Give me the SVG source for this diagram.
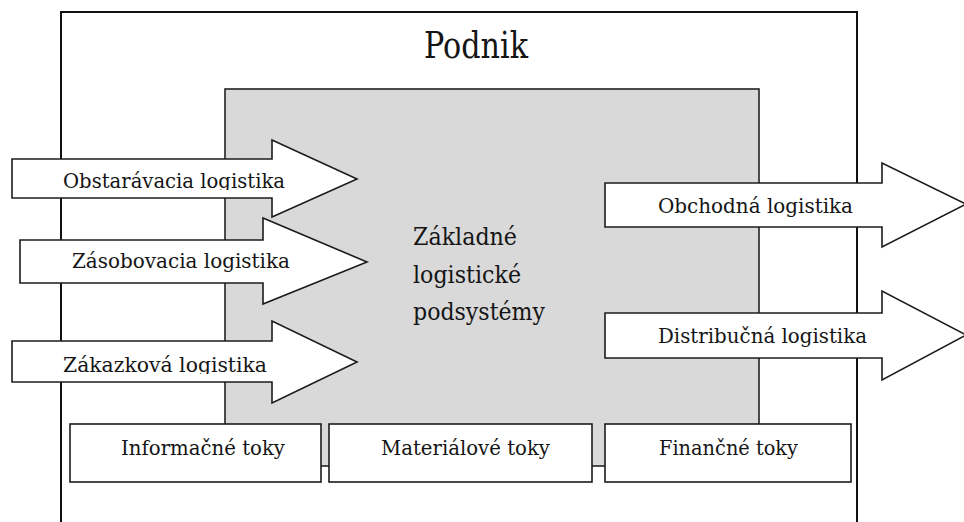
<svg xmlns="http://www.w3.org/2000/svg" width="964" height="522" viewBox="0 0 964 522">
<defs>
<style>
text{font-family:'DejaVu Serif',serif;fill:#151515;}
.lbl{font-size:21px;}
.arrow{fill:#ffffff;stroke:#1c1c1c;stroke-width:1.6;stroke-linejoin:miter;}
.box{fill:#ffffff;stroke:#1c1c1c;stroke-width:1.6;}
</style>
<clipPath id="c1"><rect x="0" y="0" width="400" height="190"/></clipPath>
<clipPath id="c3"><rect x="0" y="300" width="400" height="74"/></clipPath>
</defs>
<rect width="964" height="522" fill="#ffffff"/>
<g id="podnik">
<rect x="61" y="12" width="796" height="530" fill="#ffffff" stroke="#111" stroke-width="2"/>
<text x="424" y="58" font-size="38" textLength="104" lengthAdjust="spacingAndGlyphs">Podnik</text>
</g>
<g id="zakladne">
<rect x="225" y="89" width="534" height="377" fill="#d9d9d9" stroke="#222" stroke-width="1.6"/>
<text font-size="24" x="413" y="245" textLength="104" lengthAdjust="spacingAndGlyphs">Základné</text>
<text font-size="24" x="413" y="283" textLength="108" lengthAdjust="spacingAndGlyphs">logistické</text>
<text font-size="24" x="413" y="320" textLength="132" lengthAdjust="spacingAndGlyphs">podsystémy</text>
</g>
<g id="connectors"></g>
<g id="obstaravacia">
<polygon class="arrow" points="12,159 272,159 272,140 357,179 272,217 272,198 12,198"/>
<text class="lbl" x="63" y="188" textLength="222" lengthAdjust="spacingAndGlyphs" clip-path="url(#c1)">Obstarávacia logistika</text>
</g>
<g id="zasobovacia">
<polygon class="arrow" points="20,240 263,240 263,218 367,262 263,304 263,283 20,283"/>
<text class="lbl" x="72" y="268" textLength="218" lengthAdjust="spacingAndGlyphs">Zásobovacia logistika</text>
</g>
<g id="zakazkova">
<polygon class="arrow" points="12,341 272,341 272,321 357,362 272,403 272,382 12,382"/>
<text class="lbl" x="63" y="372" textLength="204" lengthAdjust="spacingAndGlyphs" clip-path="url(#c3)">Zákazková logistika</text>
</g>
<g id="obchodna">
<polygon class="arrow" points="605,183 882,183 882,163 966,204 882,247 882,227 605,227"/>
<text class="lbl" x="658" y="213" textLength="195" lengthAdjust="spacingAndGlyphs">Obchodná logistika</text>
</g>
<g id="distribucna">
<polygon class="arrow" points="605,313 882,313 882,291 966,335 882,380 882,358 605,358"/>
<text class="lbl" x="658" y="343" textLength="209" lengthAdjust="spacingAndGlyphs">Distribučná logistika</text>
</g>
<g id="informacne">
<rect class="box" x="70" y="424" width="251" height="58"/>
<text class="lbl" x="121" y="455" textLength="164" lengthAdjust="spacingAndGlyphs">Informačné toky</text>
</g>
<g id="materialove">
<rect class="box" x="329" y="424" width="263" height="58"/>
<text class="lbl" x="381" y="455" textLength="169" lengthAdjust="spacingAndGlyphs">Materiálové toky</text>
</g>
<g id="financne">
<rect class="box" x="605" y="424" width="246" height="58"/>
<text class="lbl" x="659" y="455" textLength="139" lengthAdjust="spacingAndGlyphs">Finančné toky</text>
</g>
</svg>
